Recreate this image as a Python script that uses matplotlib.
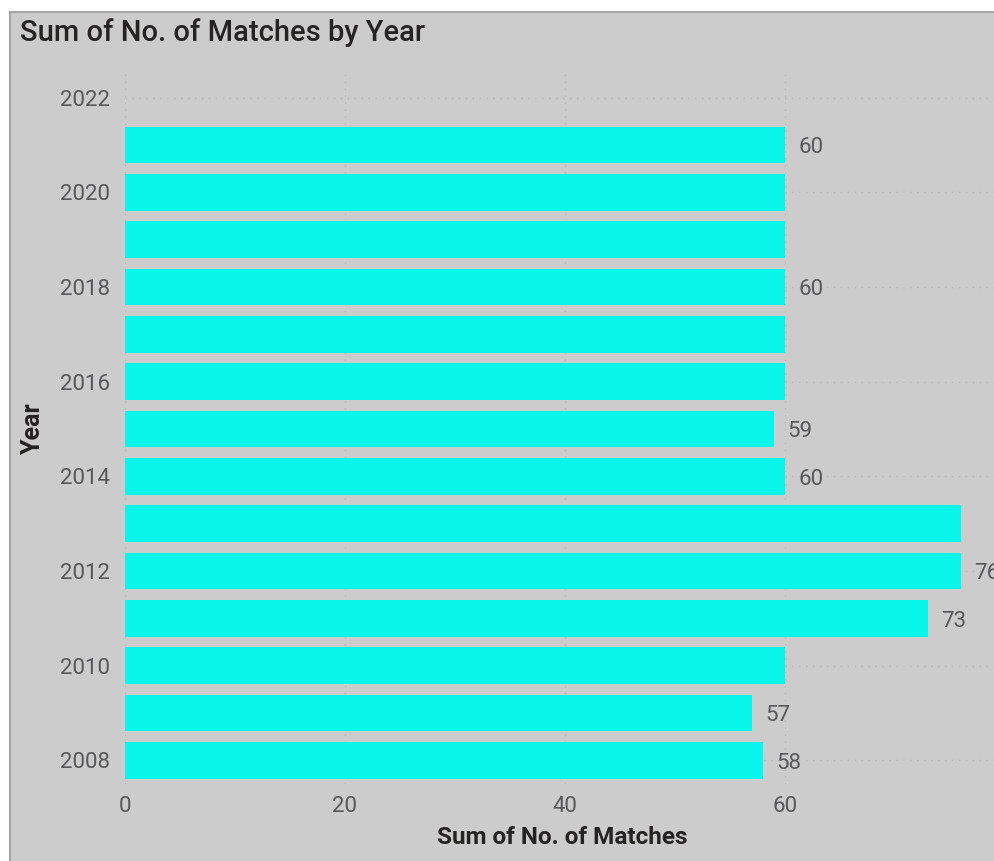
import matplotlib
matplotlib.use("Agg")
import matplotlib.pyplot as plt
from matplotlib.patches import Rectangle

# data
years = [2008, 2009, 2010, 2011, 2012, 2013, 2014, 2015, 2016, 2017, 2018, 2019, 2020, 2021]
matches = [58, 57, 60, 73, 76, 76, 60, 59, 60, 60, 60, 60, 60, 60]
# years whose bar carries a data label in the original
labelled_years = [2008, 2009, 2011, 2012, 2014, 2015, 2018, 2021]
year_ticks = [2008, 2010, 2012, 2014, 2016, 2018, 2020, 2022]
x_ticks = [0, 20, 40, 60]

bar_color = "#0af5eb"
bg_color = "#cccccc"
text_color = "#58585a"
title_color = "#252423"

plt.rcParams["font.family"] = ["Roboto", "DejaVu Sans"]

W, H = 995, 861
fig = plt.figure(figsize=(W / 100, H / 100), dpi=100, facecolor="white")

# grey card with a thin border, clipped on the right and bottom
fig.patches.append(
    Rectangle((10 / W, -0.05), 1.1, 1 - 12 / H + 0.05, transform=fig.transFigure,
              facecolor=bg_color, edgecolor="#a6a6a6", linewidth=1.5, zorder=-5)
)

left = 125 / W
bottom = 1 - 784 / H
top = 1 - 74 / H
ax = fig.add_axes([left, bottom, 1 - left, top - bottom])
ax.set_facecolor("none")

ax.barh(years, matches, height=0.78, color=bar_color, zorder=3)

for y, v in zip(years, matches):
    if y in labelled_years:
        ax.text(v + 1.2, y - 0.06, str(v), va="center", ha="left", fontsize=16,
                color=text_color, zorder=4)

ax.set_xlim(0, (W - 125) / 11)
ax.set_ylim(2007.5, 2022.5)
ax.set_yticks(year_ticks)
ax.set_xticks(x_ticks)
ax.tick_params(axis="both", length=0, labelsize=16, labelcolor=text_color)
ax.tick_params(axis="y", pad=11)
ax.tick_params(axis="x", pad=9)

ax.grid(True, color="#bababa", linestyle=(0, (1, 4)), linewidth=1, zorder=1)
for s in ax.spines.values():
    s.set_visible(False)

ax.set_xlabel("Sum of No. of Matches", fontsize=17.5, fontweight="bold",
              color=title_color)
ax.xaxis.set_label_coords((562 - 125) / (W - 125), -(838 - 784) / (784 - 74))
ax.set_ylabel("Year", fontsize=18, fontweight="bold", color=title_color)
ax.yaxis.set_label_coords(-(125 - 33) / (W - 125), (784 - 428) / (784 - 74))
ax.xaxis.label.set_va("center")
ax.yaxis.label.set_va("center")

fig.text(20 / W, 1 - 33 / H, "Sum of No. of Matches by Year", fontsize=21,
         fontweight="medium", color=title_color, va="center", ha="left")

fig.savefig("out.png", dpi=100, facecolor="white")
